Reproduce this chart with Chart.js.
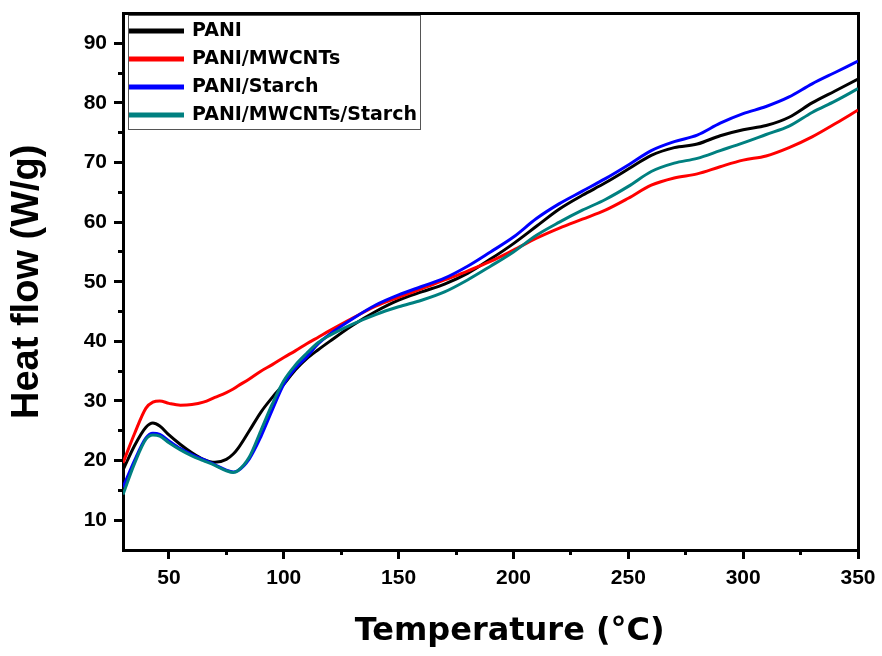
<!DOCTYPE html>
<html>
<head>
<meta charset="utf-8">
<script src="https://cdn.jsdelivr.net/npm/chart.js@4.4.1/dist/chart.umd.min.js"></script>
<style>
  html, body { margin: 0; padding: 0; background: #fff; }
  #wrap { width: 882px; height: 656px; position: relative; }
</style>
</head>
<body>
<div id="wrap"><canvas id="c" width="882" height="656"></canvas></div>
<script>
// Temperature (°C)
const temperatures = [30,35,40,43,46,50,55,60,65,70,75,78,80,85,90,95,100,105,110,115,120,130,140,150,160,170,180,190,200,210,220,230,240,250,260,270,280,290,300,310,320,330,340,350];
// Heat flow (W/g)
const pani =             [18.4,22.5,25.6,26.3,25.8,24.3,22.7,21.3,20.2,19.7,20.2,21.1,22.0,25.0,28.1,30.6,32.8,35.2,37.1,38.6,40.0,42.7,45.0,46.9,48.3,49.6,51.4,53.8,56.4,59.3,62.2,64.5,66.6,68.9,71.2,72.5,73.1,74.5,75.5,76.2,77.6,80.0,82.0,84.0];
const paniMwcnts =       [19.6,24.5,28.8,29.8,30.0,29.6,29.3,29.4,29.8,30.6,31.4,32.0,32.5,33.7,35.0,36.1,37.3,38.4,39.6,40.7,41.8,43.9,45.9,47.4,48.8,50.3,51.8,53.4,55.3,57.3,59.0,60.5,62.0,64.0,66.2,67.4,68.1,69.3,70.4,71.1,72.5,74.3,76.5,78.8];
const paniStarch =       [15.5,20.0,23.8,24.6,24.4,23.3,22.0,21.0,20.2,19.3,18.4,18.1,18.3,20.3,24.0,28.5,32.8,35.5,37.4,39.6,41.2,43.8,46.1,47.8,49.2,50.6,52.6,55.0,57.5,60.6,63.1,65.2,67.3,69.6,72.0,73.5,74.6,76.6,78.2,79.4,81.0,83.2,85.1,87.0];
const paniMwcntsStarch = [14.3,19.5,23.6,24.3,24.1,23.0,21.8,20.8,20.0,19.2,18.3,18.0,18.3,20.6,25.0,29.5,33.4,36.0,38.0,39.8,41.0,42.9,44.5,45.8,46.9,48.3,50.3,52.6,55.0,57.8,60.0,62.0,63.8,66.0,68.5,69.9,70.7,72.0,73.3,74.7,76.1,78.4,80.3,82.4];

const seriesNames = ['PANI', 'PANI/MWCNTs', 'PANI/Starch', 'PANI/MWCNTs/Starch'];
const seriesColors = ['#000000', '#ff0000', '#0000ff', '#008080'];

const xTickLabels = [50, 100, 150, 200, 250, 300, 350];
const xMinorTicks = [50, 75, 100, 125, 150, 175, 200, 225, 250, 275, 300, 325, 350];
const yTickLabels = [10, 20, 30, 40, 50, 60, 70, 80, 90];
const yMinorTicks = [10, 15, 20, 25, 30, 35, 40, 45, 50, 55, 60, 65, 70, 75, 80, 85, 90];

const FONT = "'Liberation Sans', Arial, sans-serif";
const WIDE = "'DejaVu Sans', sans-serif";

function toPoints(ys) { return temperatures.map((t, i) => ({ x: t, y: ys[i] })); }
const allSeries = [pani, paniMwcnts, paniStarch, paniMwcntsStarch];

const datasets = allSeries.map((ys, i) => ({
  label: seriesNames[i],
  data: toPoints(ys),
  borderColor: seriesColors[i],
  backgroundColor: seriesColors[i],
  borderWidth: 3,
  pointRadius: 0,
  cubicInterpolationMode: 'monotone',
  order: 4 - i
}));

function setTicks(values) {
  return function (scale) { scale.ticks = values.map(v => ({ value: v })); };
}
function fitTo(w, h) {
  return function (s) {
    if (w !== null) s.width = w;
    if (h !== null) s.height = h;
    s.paddingTop = 0; s.paddingBottom = 0; s.paddingLeft = 0; s.paddingRight = 0;
  };
}

// place the legend inside the plot's upper-left corner and frame it
const legendFrame = {
  id: 'legendFrame',
  afterLayout(chart) {
    const lg = chart.legend, ca = chart.chartArea;
    if (!lg) return;
    const w = lg.right - lg.left, h = lg.bottom - lg.top;
    lg.left = ca.left - 2.5; lg.right = lg.left + w;
    lg.top = ca.top - 1; lg.bottom = lg.top + h;
  },
  afterDraw(chart) {
    const lg = chart.legend;
    if (!lg || !lg.legendItems) return;
    const opts = lg.options.labels;
    const font = Chart.helpers.toFont(opts.font);
    const ctx = chart.ctx;
    ctx.save();
    ctx.font = font.string;
    let maxW = 0;
    lg.legendItems.forEach(it => { maxW = Math.max(maxW, ctx.measureText(it.text).width); });
    const pad = opts.padding, fs = font.size, n = lg.legendItems.length;
    const x0 = lg.left + pad;
    const textStart = x0 + opts.boxWidth + fs / 2;
    const left = x0 - 2, top = lg.top + 2.5;
    const right = textStart + maxW + 3;
    const bottom = lg.top + pad + n * (fs + pad) - pad + 4;
    ctx.strokeStyle = '#555';
    ctx.lineWidth = 1;
    ctx.strokeRect(Math.round(left) + 0.5, Math.round(top) + 0.5, Math.round(right - left), Math.round(bottom - top));
    ctx.restore();
  }
};

new Chart(document.getElementById('c'), {
  type: 'line',
  data: { datasets },
  plugins: [legendFrame],
  options: {
    responsive: false,
    animation: false,
    events: [],
    layout: { padding: { left: 0, right: 24, top: 13.5, bottom: 0 } },
    plugins: {
      tooltip: { enabled: false },
      legend: {
        position: 'chartArea',
        align: 'start',
        labels: {
          boxWidth: 53,
          boxHeight: 2,
          padding: 9,
          color: '#000',
          sort: (a, b) => a.datasetIndex - b.datasetIndex,
          font: { family: WIDE, size: 19, weight: 'bold' }
        }
      }
    },
    scales: {
      x: {
        type: 'linear',
        position: 'bottom',
        min: 30, max: 350,
        weight: 0,
        afterBuildTicks: setTicks(xTickLabels),
        afterFit: fitTo(null, 106),
        grid: { drawOnChartArea: false, drawTicks: true, tickLength: 9, tickWidth: 3, tickColor: '#000' },
        border: { display: true, width: 3, color: '#000' },
        ticks: { color: '#000', padding: 7, maxRotation: 0, autoSkip: false, font: { family: FONT, size: 21, weight: 'bold' } },
        title: { display: true, text: '\u2003\u2009Temperature (°C)', color: '#000', padding: { top: 0, bottom: 5 }, font: { family: WIDE, size: 32, weight: 'bold', lineHeight: 1.2 } }
      },
      xMinor: {
        type: 'linear',
        position: 'bottom',
        min: 30, max: 350,
        weight: -1,
        afterBuildTicks: setTicks(xMinorTicks),
        afterFit: fitTo(null, 0),
        grid: { drawOnChartArea: false, drawTicks: true, tickLength: 5, tickWidth: 3, tickColor: '#000' },
        border: { display: false },
        ticks: { display: false }
      },
      xTop: {
        type: 'linear',
        position: 'top',
        min: 30, max: 350,
        afterFit: fitTo(null, 0),
        grid: { display: false },
        border: { display: true, width: 3, color: '#000' },
        ticks: { display: false }
      },
      y: {
        type: 'linear',
        position: 'left',
        min: 5, max: 95,
        weight: 10,
        afterBuildTicks: setTicks(yTickLabels),
        afterFit: fitTo(123, null),
        grid: { drawOnChartArea: false, drawTicks: true, tickLength: 9, tickWidth: 3, tickColor: '#000' },
        border: { display: true, width: 3, color: '#000' },
        ticks: { color: '#000', padding: 7, autoSkip: false, font: { family: FONT, size: 21, weight: 'bold' } },
        title: { display: true, text: 'Heat flow (W/g)', color: '#000', padding: { top: 5, bottom: 0 }, font: { family: FONT, size: 38, weight: 'bold', lineHeight: 1.2 } }
      },
      yMinor: {
        type: 'linear',
        position: 'left',
        min: 5, max: 95,
        weight: 0,
        afterBuildTicks: setTicks(yMinorTicks),
        afterFit: fitTo(0, null),
        grid: { drawOnChartArea: false, drawTicks: true, tickLength: 5, tickWidth: 3, tickColor: '#000' },
        border: { display: false },
        ticks: { display: false }
      },
      yRight: {
        type: 'linear',
        position: 'right',
        min: 5, max: 95,
        afterFit: fitTo(0, null),
        grid: { display: false },
        border: { display: true, width: 3, color: '#000' },
        ticks: { display: false }
      }
    }
  }
});
</script>
</body>
</html>
